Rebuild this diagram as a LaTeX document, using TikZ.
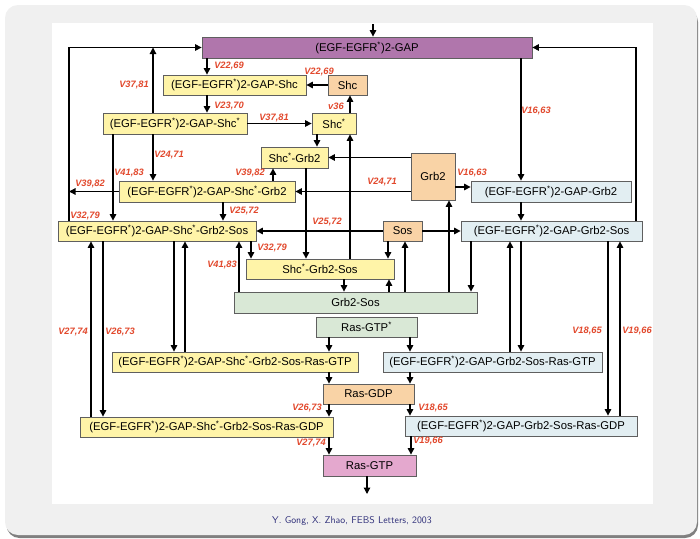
\documentclass[tikz,border=0pt]{standalone}
\usepackage{fontspec}
\setmainfont{Liberation Sans}
\usetikzlibrary{arrows.meta}

\definecolor{gapviolet}{RGB}{176,118,172}
\definecolor{cyellow}{RGB}{255,244,168}
\definecolor{corange}{RGB}{249,211,166}
\definecolor{cblue}{RGB}{226,238,242}
\definecolor{cgreen}{RGB}{217,232,214}
\definecolor{cpink}{RGB}{228,168,206}
\definecolor{rate}{RGB}{226,72,44}
\definecolor{edgegray}{RGB}{95,95,95}
\definecolor{panel}{RGB}{240,240,240}
\definecolor{capblue}{RGB}{48,48,122}

% raised asterisk for activated species
\newcommand\actv{\textsuperscript{*}}

\tikzset{
  species/.style={draw=edgegray, line width=0.8pt, inner sep=0pt,
    text=black, font=\fontsize{11.3}{13}\selectfont},
  yel/.style={species, fill=cyellow},
  ora/.style={species, fill=corange},
  blu/.style={species, fill=cblue},
  gre/.style={species, fill=cgreen},
  arr/.style={line width=1.2pt, -{Triangle[length=6.5pt,width=6.5pt]}},
  rlab/.style={text=rate, inner sep=0pt,
    font=\fontsize{9.3}{10}\selectfont\bfseries\itshape},
}

\begin{document}
\begin{tikzpicture}[x=1pt,y=-1pt]
\useasboundingbox (0,0) rectangle (700,538);
\fill[white] (0,0) rectangle (700,538);

% slide panel with its shadow and the white figure area
\fill[black!50, rounded corners=13pt] (6.5,9) rectangle (698,538);
\fill[panel, rounded corners=13pt] (5,5) rectangle (697,535);
\fill[white] (52,23) rectangle (653,504);

% species
\node[species, fill=gapviolet, minimum width=330pt, minimum height=21pt] (gap) at (367,47.5) {(EGF-EGFR\actv)2-GAP};
\node[yel, minimum width=143pt, minimum height=20pt] (gapshc) at (234.5,85) {(EGF-EGFR\actv)2-GAP-Shc};
\node[ora, minimum width=39pt, minimum height=20pt] (shc) at (347.5,85) {Shc};
\node[yel, minimum width=144pt, minimum height=21pt] (gapshcs) at (175,123.5) {(EGF-EGFR\actv)2-GAP-Shc\actv};
\node[yel, minimum width=44pt, minimum height=21pt] (shcs) at (334,123.5) {Shc\actv};
\node[yel, minimum width=67pt, minimum height=21pt] (shcgrb) at (294.5,157.5) {Shc\actv-Grb2};
\node[ora, minimum width=44pt, minimum height=47pt] (grb) at (433,176.5) {Grb2};
\node[yel, minimum width=176pt, minimum height=21pt] (gapshcgrb) at (207,191.5) {(EGF-EGFR\actv)2-GAP-Shc\actv-Grb2};
\node[blu, minimum width=160pt, minimum height=21pt] (gapgrb) at (551,191.5) {(EGF-EGFR\actv)2-GAP-Grb2};
\node[yel, minimum width=198pt, minimum height=20pt] (gapshcgs) at (157,231) {(EGF-EGFR\actv)2-GAP-Shc\actv-Grb2-Sos};
\node[ora, minimum width=39pt, minimum height=20pt] (sos) at (402.5,231) {Sos};
\node[blu, minimum width=181pt, minimum height=20pt] (gapgs) at (551.5,231) {(EGF-EGFR\actv)2-GAP-Grb2-Sos};
\node[yel, minimum width=148pt, minimum height=20pt] (shcgs) at (320,269) {Shc\actv-Grb2-Sos};
\node[gre, minimum width=243pt, minimum height=21pt] (grbsos) at (355.5,302.5) {Grb2-Sos};
\node[gre, minimum width=101pt, minimum height=20pt] (rasgtps) at (366.5,327) {Ras-GTP\actv};
\node[yel, minimum width=246pt, minimum height=20pt] (ygtp) at (235,362) {(EGF-EGFR\actv)2-GAP-Shc\actv-Grb2-Sos-Ras-GTP};
\node[blu, minimum width=219pt, minimum height=20pt] (bgtp) at (492.5,362) {(EGF-EGFR\actv)2-GAP-Grb2-Sos-Ras-GTP};
\node[ora, minimum width=91pt, minimum height=20pt] (rasgdp) at (368.5,394) {Ras-GDP};
\node[yel, minimum width=253pt, minimum height=20pt] (ygdp) at (206.5,427) {(EGF-EGFR\actv)2-GAP-Shc\actv-Grb2-Sos-Ras-GDP};
\node[blu, minimum width=232pt, minimum height=20pt] (bgdp) at (521,426) {(EGF-EGFR\actv)2-GAP-Grb2-Sos-Ras-GDP};
\node[species, fill=cpink, minimum width=93pt, minimum height=21pt] (rasgtp) at (369.5,465.5) {Ras-GTP};

% free ends of the input and output arrows
\coordinate (inflow) at (373,24);
\coordinate (outflow) at (367,494);

% upper part: Shc branch
\draw[arr] (inflow) -- (gap.north -| inflow);
\draw[arr] (gap.south -| 207,0) -- (gapshc.north -| 207,0);
\draw[arr] (shc.west) -- (gapshc.east);
\draw[arr] (shcs.north -| 350,0) -- (shc.south -| 350,0);
\draw[arr] (gapshc.south -| 207,0) -- (gapshcs.north -| 207,0);
\draw[arr] (gapshcs.east) -- (shcs.west);
\draw[arr] (gapshcs.north -| 153,0) -- (153,0 |- gap.west);
\draw[arr] (gapshcgs.north -| 69,0) |- (gap.west);
\draw[arr] (gapgs.north -| 636,0) |- (gap.east);
\draw[arr] (gapshcs.south -| 153,0) -- (gapshcgrb.north -| 153,0);
\draw[arr] (gapshcs.south -| 113,0) -- (gapshcgs.north -| 113,0);
\draw[arr] (gapshcgrb.west) -- (69,0 |- gapshcgrb.west);
\draw[arr] (gapshcgrb.north -| 273,0) -- (shcgrb.south -| 273,0);
\draw[arr] (shcs.south -| 317,0) -- (shcgrb.north -| 317,0);
\draw[arr] (grb.west |- shcgrb.east) -- (shcgrb.east);
\draw[arr] (grb.west |- gapshcgrb.east) -- (gapshcgrb.east);
\draw[arr] (grb.east |- 0,187) -- (gapgrb.west |- 0,187);
\draw[arr] (gap.south -| 521,0) -- (gapgrb.north -| 521,0);
\draw[arr] (gapgrb.south -| 521,0) -- (gapgs.north -| 521,0);

% Sos and Grb2-Sos exchanges
\draw[arr] (sos.east) -- (gapgs.west);
\draw[arr] (sos.west) -- (gapshcgs.east);
\draw[arr] (gapshcgrb.south -| 223,0) -- (gapshcgs.north -| 223,0);
\draw[arr] (gapshcgs.south -| 251,0) -- (shcgs.north -| 251,0);
\draw[arr] (shcgrb.south -| 306,0) -- (shcgs.north -| 306,0);
\draw[arr] (shcgs.north -| 350,0) -- (shcs.south -| 350,0);
\draw[arr] (sos.south -| 388,0) -- (shcgs.north -| 388,0);
\draw[arr] (grbsos.north -| 405,0) -- (sos.south -| 405,0);
\draw[arr] (shcgs.south -| 344,0) -- (grbsos.north -| 344,0);
\draw[arr] (grbsos.north -| 389,0) -- (shcgs.south -| 389,0);
\draw[arr] (grbsos.north -| 449,0) -- (grb.south -| 449,0);
\draw[arr] (gapgs.south -| 471,0) -- (grbsos.north -| 471,0);
\draw[arr] (grbsos.north -| 239,0) -- (gapshcgs.south -| 239,0);

% Ras complexes, left and right columns
\draw[arr] (ygdp.north -| 91,0) -- (gapshcgs.south -| 91,0);
\draw[arr] (gapshcgs.south -| 103,0) -- (ygdp.north -| 103,0);
\draw[arr] (gapshcgs.south -| 174,0) -- (ygtp.north -| 174,0);
\draw[arr] (ygtp.north -| 185,0) -- (gapshcgs.south -| 185,0);
\draw[arr] (bgtp.north -| 510,0) -- (gapgs.south -| 510,0);
\draw[arr] (gapgs.south -| 521,0) -- (bgtp.north -| 521,0);
\draw[arr] (gapgs.south -| 608,0) -- (bgdp.north -| 608,0);
\draw[arr] (bgdp.north -| 620,0) -- (gapgs.south -| 620,0);

% Ras cycle in the middle
\draw[arr] (rasgtps.south -| 329,0) -- (ygtp.north -| 329,0);
\draw[arr] (rasgtps.south -| 410,0) -- (bgtp.north -| 410,0);
\draw[arr] (ygtp.south -| 329,0) -- (rasgdp.north -| 329,0);
\draw[arr] (bgtp.south -| 410,0) -- (rasgdp.north -| 410,0);
\draw[arr] (rasgdp.south -| 329,0) -- (ygdp.north -| 329,0);
\draw[arr] (rasgdp.south -| 410,0) -- (bgdp.north -| 410,0);
\draw[arr] (ygdp.south -| 329,0) -- (rasgtp.north -| 329,0);
\draw[arr] (bgdp.south -| 411,0) -- (rasgtp.north -| 411,0);
\draw[arr] (rasgtp.south -| outflow) -- (outflow);

% rate labels
\node[rlab] (l01) at (229,66) {V22,69};
\node[rlab] (l02) at (319,72) {V22,69};
\node[rlab] (l03) at (336,106) {v36};
\node[rlab] (l04) at (229,106) {V23,70};
\node[rlab] (l05) at (274,118) {V37,81};
\node[rlab] (l06) at (134,85) {V37,81};
\node[rlab] (l07) at (85,216) {V32,79};
\node[rlab] (l08) at (169,155) {V24,71};
\node[rlab] (l09) at (129,173) {V41,83};
\node[rlab] (l10) at (90,184) {V39,82};
\node[rlab] (l11) at (250,173) {V39,82};
\node[rlab] (l12) at (382,182) {V24,71};
\node[rlab] (l13) at (472,173) {V16,63};
\node[rlab] (l14) at (536,111) {V16,63};
\node[rlab] (l15) at (327,222) {V25,72};
\node[rlab] (l16) at (244,211) {V25,72};
\node[rlab] (l17) at (272,248) {V32,79};
\node[rlab] (l18) at (222,265) {V41,83};
\node[rlab] (l19) at (73,332) {V27,74};
\node[rlab] (l20) at (120,332) {V26,73};
\node[rlab] (l21) at (587,331) {V18,65};
\node[rlab] (l22) at (637,331) {V19,66};
\node[rlab] (l23) at (307,408) {V26,73};
\node[rlab] (l24) at (433,408) {V18,65};
\node[rlab] (l25) at (311,443) {V27,74};
\node[rlab] (l26) at (428,441) {V19,66};

% source line
\node[text=capblue, font=\sffamily\fontsize{9.8}{11}\selectfont] (src) at (352,521) {Y. Gong, X. Zhao, FEBS Letters, 2003};
\end{tikzpicture}
\end{document}
